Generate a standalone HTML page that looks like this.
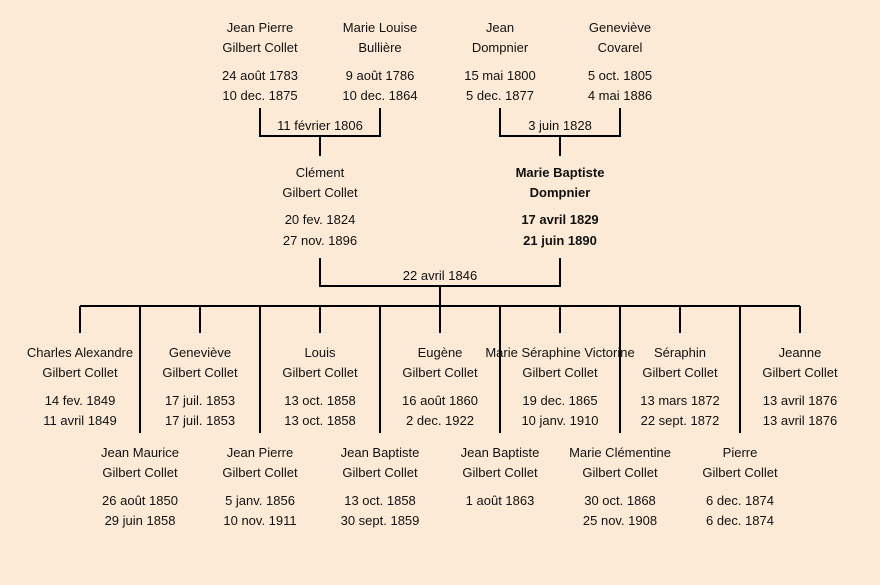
<!DOCTYPE html>
<html><head><meta charset="utf-8"><style>
html,body{margin:0;padding:0;background:#fdead6;}
svg{display:block}
text{font-family:"Liberation Sans","DejaVu Sans",sans-serif;font-size:13px;fill:#111;text-anchor:middle}
.b{font-weight:bold}
</style></head><body>
<svg width="880" height="585" viewBox="0 0 880 585">
<rect width="880" height="585" fill="#fdead6"/>
<g stroke="#000" stroke-width="2" fill="none">
<path d="M260 108V136H380V108M320 136V156"/>
<path d="M500 108V136H620V108M560 136V156"/>
<path d="M320 258V286H560V258M440 286V306"/>
<path d="M80 306H800"/>
<path d="M80 306V333M200 306V333M320 306V333M440 306V333M560 306V333M680 306V333M800 306V333"/>
<path d="M140 306V433M260 306V433M380 306V433M500 306V433M620 306V433M740 306V433"/>
</g>
<g>
<text x="260" y="32">Jean Pierre</text><text x="260" y="52">Gilbert Collet</text><text x="260" y="80">24 août 1783</text><text x="260" y="100">10 dec. 1875</text>
<text x="380" y="32">Marie Louise</text><text x="380" y="52">Bullière</text><text x="380" y="80">9 août 1786</text><text x="380" y="100">10 dec. 1864</text>
<text x="500" y="32">Jean</text><text x="500" y="52">Dompnier</text><text x="500" y="80">15 mai 1800</text><text x="500" y="100">5 dec. 1877</text>
<text x="620" y="32">Geneviève</text><text x="620" y="52">Covarel</text><text x="620" y="80">5 oct. 1805</text><text x="620" y="100">4 mai 1886</text>
<text x="320" y="130">11 février 1806</text><text x="560" y="130">3 juin 1828</text>
<text x="320" y="177">Clément</text><text x="320" y="197">Gilbert Collet</text><text x="320" y="224">20 fev. 1824</text><text x="320" y="245">27 nov. 1896</text>
<text class="b" x="560" y="177">Marie Baptiste</text><text class="b" x="560" y="197">Dompnier</text><text class="b" x="560" y="224">17 avril 1829</text><text class="b" x="560" y="245">21 juin 1890</text>
<text x="440" y="280">22 avril 1846</text>

<text x="80" y="357">Charles Alexandre</text><text x="80" y="377">Gilbert Collet</text><text x="80" y="405">14 fev. 1849</text><text x="80" y="425">11 avril 1849</text>
<text x="200" y="357">Geneviève</text><text x="200" y="377">Gilbert Collet</text><text x="200" y="405">17 juil. 1853</text><text x="200" y="425">17 juil. 1853</text>
<text x="320" y="357">Louis</text><text x="320" y="377">Gilbert Collet</text><text x="320" y="405">13 oct. 1858</text><text x="320" y="425">13 oct. 1858</text>
<text x="440" y="357">Eugène</text><text x="440" y="377">Gilbert Collet</text><text x="440" y="405">16 août 1860</text><text x="440" y="425">2 dec. 1922</text>
<text x="560" y="357">Marie Séraphine Victorine</text><text x="560" y="377">Gilbert Collet</text><text x="560" y="405">19 dec. 1865</text><text x="560" y="425">10 janv. 1910</text>
<text x="680" y="357">Séraphin</text><text x="680" y="377">Gilbert Collet</text><text x="680" y="405">13 mars 1872</text><text x="680" y="425">22 sept. 1872</text>
<text x="800" y="357">Jeanne</text><text x="800" y="377">Gilbert Collet</text><text x="800" y="405">13 avril 1876</text><text x="800" y="425">13 avril 1876</text>

<text x="140" y="457">Jean Maurice</text><text x="140" y="477">Gilbert Collet</text><text x="140" y="505">26 août 1850</text><text x="140" y="525">29 juin 1858</text>
<text x="260" y="457">Jean Pierre</text><text x="260" y="477">Gilbert Collet</text><text x="260" y="505">5 janv. 1856</text><text x="260" y="525">10 nov. 1911</text>
<text x="380" y="457">Jean Baptiste</text><text x="380" y="477">Gilbert Collet</text><text x="380" y="505">13 oct. 1858</text><text x="380" y="525">30 sept. 1859</text>
<text x="500" y="457">Jean Baptiste</text><text x="500" y="477">Gilbert Collet</text><text x="500" y="505">1 août 1863</text>
<text x="620" y="457">Marie Clémentine</text><text x="620" y="477">Gilbert Collet</text><text x="620" y="505">30 oct. 1868</text><text x="620" y="525">25 nov. 1908</text>
<text x="740" y="457">Pierre</text><text x="740" y="477">Gilbert Collet</text><text x="740" y="505">6 dec. 1874</text><text x="740" y="525">6 dec. 1874</text>
</g>
</svg>
</body></html>
